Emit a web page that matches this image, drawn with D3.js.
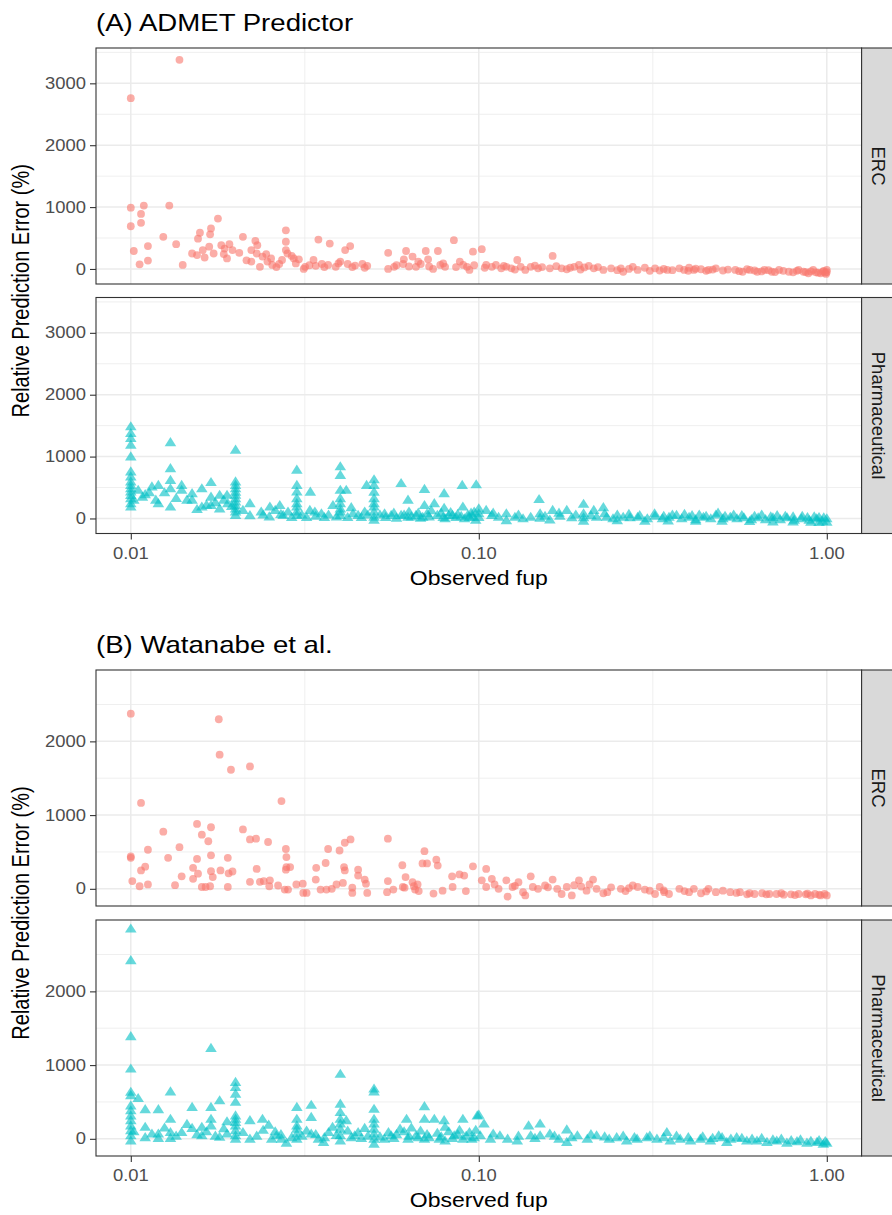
<!DOCTYPE html>
<html>
<head>
  <meta charset="utf-8">
  <title>Relative prediction error vs observed fup</title>
  <style>
    body { margin: 0; background: #ffffff; }
    text { font-family: "Liberation Sans", Arial, sans-serif; }
  </style>
</head>
<body>
  <svg width="892" height="1215"></svg>
  <script src="https://d3js.org/d3.v7.min.js"></script>
  <script>
  // data: [observed fup, relative prediction error (%)]
  var facets = ["ERC", "Pharmaceutical"];
  var titles = ["(A) ADMET Predictor", "(B) Watanabe et al."];
  var xTicks = [0.01, 0.1, 1];
  var xTickLabels = ["0.01", "0.10", "1.00"];
  var yTicksA = [0, 1000, 2000, 3000];
  var yTicksB = [0, 1000, 2000];

  var ercA = [
    [0.0138, 3380], [0.010, 2760],
    [0.010, 990], [0.010, 690], [0.0102, 290], [0.0107, 890], [0.0107, 745], [0.0109, 1025],
    [0.0112, 370], [0.0106, 75], [0.0112, 135], [0.0129, 1025], [0.0124, 520], [0.0135, 400],
    [0.0141, 65], [0.0150, 250], [0.0155, 225], [0.0156, 490], [0.0158, 585], [0.0161, 305],
    [0.0163, 185], [0.0168, 360], [0.0169, 560], [0.0170, 655], [0.0173, 250], [0.0178, 815],
    [0.0182, 385], [0.0186, 330], [0.0189, 170], [0.0192, 400], [0.0196, 305], [0.0210, 520],
    [0.0222, 305], [0.0228, 455], [0.0231, 385], [0.0230, 250], [0.0222, 120], [0.0239, 200],
    [0.0245, 240], [0.0247, 120], [0.0235, 35], [0.0255, 65], [0.0267, 80], [0.0272, 145],
    [0.0279, 625], [0.0279, 440], [0.0279, 305], [0.0282, 250], [0.0290, 210], [0.0294, 170],
    [0.0304, 155], [0.0314, 0], [0.0317, 35], [0.0335, 145], [0.0346, 475], [0.0373, 410],
    [0.0340, 50], [0.0354, 80], [0.0369, 65], [0.0388, 35], [0.0400, 120], [0.0413, 305],
    [0.0427, 370], [0.0420, 80], [0.0441, 55], [0.0463, 80], [0.0478, 50], [0.0549, 260],
    [0.0549, 0], [0.0571, 35], [0.0609, 155], [0.0618, 290], [0.0606, 80], [0.0645, 200],
    [0.0660, 35], [0.0670, 120], [0.0681, 80], [0.0704, 290], [0.0715, 155], [0.0739, 0],
    [0.0763, 290], [0.0775, 65], [0.0800, 35], [0.0848, 465], [0.0882, 120], [0.0902, 65],
    [0.0925, 35], [0.094, -15], [0.0962, 280], [0.102, 320], [0.105, 65], [0.109, 35],
    [0.112, 65], [0.116, 10], [0.120, 35], [0.124, 10], [0.129, 145], [0.132, 35],
    [0.136, -15], [0.141, 35], [0.148, 10], [0.163, 210], [0.160, 10], [0.173, 10],
    [0.179, -5], [0.188, 35], [0.194, 65], [0.201, 25], [0.207, 50], [0.214, 10],
    [0.228, -15], [0.256, 10], [0.260, -45], [0.277, 35], [0.286, -15], [0.321, 10],
    [0.331, -25], [0.348, -15], [0.377, 10], [0.389, -15], [0.402, 20], [0.415, -15],
    [0.435, -5], [0.457, -15], [0.480, 10], [0.503, -25], [0.546, -15], [0.573, -45],
    [0.601, -15], [0.631, -45], [0.662, -15], [0.695, -45], [0.729, -15], [0.778, -45],
    [0.830, -15], [0.857, -45], [0.885, -70], [0.914, -15], [0.944, -60], [0.975, -45],
    [1.0, -15], [0.995, -80],
    [0.0185, 240], [0.0205, 260], [0.0215, 140], [0.0253, 170], [0.0262, 30], [0.0298, 90],
    [0.0326, 60], [0.036, 30], [0.0395, 90], [0.0433, 30], [0.047, 20], [0.058, 60],
    [0.063, 40], [0.072, 40], [0.079, 90], [0.086, 30], [0.097, 60],
    [0.104, 20], [0.118, 50], [0.127, -10], [0.145, 55], [0.152, 30], [0.167, 45],
    [0.183, 20], [0.196, -10], [0.22, 30], [0.24, 10], [0.25, -20], [0.27, 0], [0.30, 20],
    [0.31, -30], [0.34, 0], [0.36, -20], [0.40, -30], [0.42, 5], [0.45, -30], [0.47, -10],
    [0.52, -10], [0.56, -35], [0.59, -5], [0.62, -25], [0.65, -40], [0.68, -20], [0.71, -50],
    [0.75, -30], [0.80, -55], [0.82, -30], [0.87, -50], [0.90, -40], [0.93, -55], [0.96, -70],
    [0.98, -30], [0.99, -60], [1.0, -50]
  ];

  var pharmA = [
    [0.01, 1486], [0.01, 1378], [0.01, 1297], [0.01, 1189], [0.01, 1000], [0.01, 757],
    [0.01, 676], [0.01, 595], [0.01, 540], [0.01, 486], [0.01, 432], [0.01, 378],
    [0.01, 324], [0.01, 243], [0.01, 189],
    [0.0105, 460], [0.0110, 390], [0.0115, 515], [0.0120, 540], [0.0120, 245],
    [0.0130, 1230], [0.0130, 810], [0.0130, 620], [0.0130, 485], [0.0130, 190],
    [0.0140, 540], [0.0140, 460], [0.0150, 405], [0.0150, 300], [0.0160, 485], [0.0160, 190],
    [0.0170, 585], [0.0170, 350], [0.0170, 215], [0.0180, 380], [0.0180, 160],
    [0.0189, 380], [0.0190, 245],
    [0.02, 1108], [0.02, 595], [0.02, 540], [0.02, 485], [0.02, 430], [0.02, 380],
    [0.02, 325], [0.02, 270], [0.02, 215], [0.02, 160], [0.02, 110], [0.02, 55],
    [0.0210, 135], [0.0220, 245], [0.0237, 110], [0.0251, 190], [0.0260, 135],
    [0.0268, 215], [0.0274, 55], [0.0283, 110],
    [0.03, 785], [0.03, 540], [0.03, 432], [0.03, 325], [0.03, 245], [0.03, 190],
    [0.03, 110], [0.03, 55],
    [0.0328, 430], [0.0327, 135], [0.0338, 110], [0.0353, 80], [0.0381, 215],
    [0.04, 840], [0.04, 700], [0.04, 460], [0.04, 325], [0.04, 245], [0.04, 160],
    [0.04, 110], [0.04, 55],
    [0.0416, 460], [0.0435, 80], [0.045, 55], [0.047, 110], [0.0476, 540],
    [0.05, 630], [0.05, 540], [0.05, 430], [0.05, 325], [0.05, 245], [0.05, 190],
    [0.05, 110], [0.05, 25], [0.05, -25],
    [0.0536, 80], [0.0560, 55], [0.0598, 570], [0.0598, 55], [0.0626, 300], [0.0626, 25],
    [0.066, 55], [0.0698, 475], [0.0698, 215], [0.069, 25], [0.0745, 245], [0.076, 55],
    [0.0795, 405], [0.0795, 170], [0.080, 0], [0.084, 55], [0.0896, 540], [0.090, 190],
    [0.091, 0], [0.0983, 550], [0.097, 110], [0.098, -25],
    [0.105, 135], [0.109, 55], [0.114, 25], [0.120, 80], [0.127, 25], [0.134, 0],
    [0.141, 25], [0.149, 310], [0.150, 80], [0.155, 40], [0.163, 135], [0.171, 40],
    [0.179, 135], [0.185, 15], [0.200, 235], [0.200, 80], [0.200, 15], [0.214, 135],
    [0.218, 25], [0.228, 180], [0.233, 25], [0.243, 0], [0.260, 25], [0.272, 15],
    [0.286, 25], [0.305, 0], [0.321, 40], [0.337, 0], [0.352, 25], [0.370, 55],
    [0.383, 0], [0.402, 25], [0.420, -15], [0.442, 25], [0.464, 0], [0.487, 90],
    [0.503, 0], [0.528, 25], [0.552, 0], [0.578, 15], [0.607, -15], [0.635, 15],
    [0.667, -15], [0.700, 15], [0.735, -15], [0.769, 15], [0.806, -25], [0.845, 0],
    [0.890, -25], [0.935, 0], [0.972, -40], [1.0, 0], [1.0, -55],
    [0.11, 90], [0.13, 60], [0.15, 10], [0.17, 90], [0.19, 60], [0.21, 50], [0.23, 80],
    [0.25, 60], [0.27, 70], [0.29, 50], [0.32, 80], [0.34, 40], [0.36, 60], [0.39, 70],
    [0.41, 50], [0.43, 60], [0.45, 40], [0.48, 60], [0.51, 40], [0.54, 60], [0.57, 50],
    [0.62, 40], [0.65, 60], [0.69, 30], [0.72, 50], [0.76, 40], [0.80, 30], [0.85, 40],
    [0.88, 20], [0.92, 30], [0.95, 20], [0.98, 15],
    [0.12, -30], [0.16, -20], [0.20, -40], [0.25, -30], [0.30, -40], [0.35, -35],
    [0.42, -40], [0.50, -40], [0.60, -45], [0.70, -50], [0.80, -50], [0.90, -55], [0.95, -60],
    [0.0102, 300], [0.0108, 350], [0.0113, 420], [0.0118, 300], [0.0125, 420], [0.0135, 330],
    [0.0145, 300], [0.0155, 150], [0.0165, 220], [0.0175, 260], [0.0185, 300], [0.0195, 200],
    [0.022, 50], [0.024, 60], [0.025, 30], [0.027, 70], [0.029, 20], [0.031, 60], [0.032, 20],
    [0.034, 40], [0.036, 20], [0.037, 60], [0.039, 30], [0.042, 20], [0.043, 180], [0.046, 20],
    [0.048, 60], [0.052, 60], [0.054, 20], [0.057, 90], [0.058, 10], [0.061, 60], [0.063, 110],
    [0.064, 30], [0.067, 90], [0.068, 10], [0.071, 80], [0.072, 30], [0.073, 130], [0.078, 90],
    [0.079, 20], [0.082, 50], [0.083, 100], [0.086, 20], [0.087, 70], [0.089, 40], [0.093, 60],
    [0.094, 20], [0.095, 90], [0.096, 30], [0.1, 80], [0.1, 20], [0.1, 160]
  ];

  var ercB = [
    [0.010, 2375], [0.0179, 2300], [0.0180, 1820], [0.0194, 1615], [0.0220, 1660],
    [0.0271, 1190], [0.0107, 1165], [0.0124, 775], [0.0155, 880], [0.0160, 735],
    [0.0170, 835], [0.0167, 645], [0.0210, 805], [0.0220, 670], [0.0229, 680], [0.0248, 635],
    [0.010, 420], [0.010, 440], [0.0101, 105], [0.0106, 35], [0.0107, 250], [0.0110, 300],
    [0.0112, 530], [0.0112, 60], [0.0128, 420], [0.0134, 50], [0.0138, 565], [0.0140, 170],
    [0.0151, 285], [0.0151, 135], [0.0155, 405], [0.0156, 205], [0.0160, 25], [0.0164, 25],
    [0.0169, 35], [0.0170, 455], [0.0170, 240], [0.0172, 160], [0.0181, 250], [0.0190, 420],
    [0.0190, 25], [0.0191, 210], [0.0196, 235], [0.0220, 95], [0.0230, 270], [0.0235, 95],
    [0.0241, 105], [0.0251, 115], [0.0250, 35], [0.0265, 45], [0.0279, 540], [0.0280, 430],
    [0.0280, 295], [0.0279, 260], [0.0287, 295], [0.0277, -10], [0.0283, -10], [0.0299, 60],
    [0.0312, 70], [0.0313, -55], [0.0320, -55], [0.0341, 285], [0.0340, 125], [0.0363, 350],
    [0.0369, 540], [0.0351, -10], [0.0365, -10], [0.0378, 0], [0.0390, 60], [0.0398, 520],
    [0.0412, 625], [0.0428, 670], [0.0410, 295], [0.0412, 250], [0.0407, 80], [0.0433, 15],
    [0.0433, -55], [0.0450, 260], [0.0450, 180], [0.0470, 125], [0.0474, 70], [0.0478, -55],
    [0.0545, -45], [0.0548, 105], [0.0548, 680], [0.0568, -10], [0.0603, 320], [0.0616, 160],
    [0.0605, 25], [0.0612, 15], [0.0645, 90], [0.0651, 35], [0.0656, -10], [0.0667, 60],
    [0.0672, -30], [0.0698, 510], [0.0689, 345], [0.0710, 345], [0.0755, 395], [0.0762, 315],
    [0.0741, -65], [0.0787, -25], [0.0838, 170], [0.0841, 25], [0.0880, 195], [0.0908, 180],
    [0.0918, -30], [0.0962, 305],
    [0.102, 115], [0.105, 270], [0.105, 25], [0.109, 135], [0.114, 0], [0.120, 115],
    [0.121, -105], [0.125, 25], [0.130, 90], [0.134, -45], [0.136, -90], [0.141, 170],
    [0.143, 25], [0.148, 0], [0.155, 45], [0.163, 125], [0.168, 0], [0.173, -70],
    [0.179, 25], [0.185, -90], [0.194, 115], [0.197, 30], [0.204, -25], [0.213, 125],
    [0.218, 0], [0.228, -60], [0.234, -45], [0.256, 0], [0.264, -30], [0.277, 45],
    [0.286, 25], [0.310, -25], [0.321, -70], [0.331, 25], [0.341, -45], [0.352, -70],
    [0.377, 0], [0.402, -45], [0.415, 0], [0.435, -60], [0.457, 0], [0.480, -45],
    [0.503, -25], [0.528, -45], [0.563, -45], [0.590, -75], [0.620, -70], [0.652, -60],
    [0.684, -70], [0.717, -70], [0.752, -80], [0.789, -75], [0.830, -70], [0.870, -75],
    [0.900, -90], [0.925, -70], [0.960, -90], [0.985, -70], [1.0, -90],
    [0.111, 60], [0.127, 40], [0.158, 20], [0.188, 50], [0.208, 60], [0.24, 20], [0.27, 10],
    [0.30, -10], [0.34, -20], [0.39, -30], [0.45, -35], [0.55, -55], [0.60, -60], [0.67, -75],
    [0.74, -60], [0.81, -85], [0.88, -65], [0.95, -80]
  ];

  var pharmB = [
    [0.01, 2850], [0.01, 2420], [0.01, 1390], [0.01, 950], [0.01, 635], [0.01, 590],
    [0.01, 450], [0.01, 385], [0.01, 315], [0.01, 250], [0.01, 180], [0.01, 115],
    [0.01, 45], [0.01, -25],
    [0.0105, 550], [0.0110, 400], [0.0110, 160], [0.0115, 70], [0.0120, 400], [0.0120, 70],
    [0.0120, 10], [0.0130, 640], [0.0130, 270], [0.0130, 90], [0.0130, 10], [0.0140, 90],
    [0.0150, 430], [0.0150, 145], [0.016, 160], [0.016, 45], [0.0170, 1230], [0.017, 430],
    [0.017, 270], [0.017, 180], [0.018, 520], [0.018, 25], [0.0189, 235], [0.0189, 70],
    [0.02, 770], [0.02, 700], [0.02, 610], [0.02, 500], [0.02, 315], [0.02, 270],
    [0.02, 225], [0.02, 180], [0.02, 115], [0.02, 45], [0.02, 0],
    [0.022, 250], [0.022, 0], [0.0239, 270], [0.0249, 190], [0.0254, 0], [0.0262, 45],
    [0.0271, 0], [0.028, -55],
    [0.03, 430], [0.03, 270], [0.03, 180], [0.03, 135], [0.03, 70], [0.03, 0],
    [0.033, 460], [0.033, 295], [0.033, 70], [0.0346, 0], [0.0358, -45], [0.038, 160],
    [0.04, 880], [0.04, 475], [0.04, 360], [0.04, 270], [0.04, 205], [0.04, 135],
    [0.04, 45], [0.04, -25],
    [0.0416, 250], [0.044, 45], [0.047, 145],
    [0.05, 680], [0.05, 640], [0.05, 405], [0.05, 270], [0.05, 205], [0.05, 135],
    [0.05, 70], [0.05, 0], [0.05, -70],
    [0.0536, 0], [0.056, 45], [0.0594, 135], [0.062, 270], [0.0626, 0], [0.066, 45],
    [0.0698, 440], [0.0698, 270], [0.0698, 0], [0.0745, 270], [0.077, 0], [0.0795, 250],
    [0.080, 160], [0.080, -25], [0.085, 45], [0.090, 270], [0.090, 0], [0.0955, 0],
    [0.099, 315],
    [0.100, 325], [0.1035, 205], [0.101, 45], [0.108, 0], [0.115, 45], [0.121, 0],
    [0.129, -25], [0.139, 180], [0.141, 45], [0.150, 205], [0.150, 45], [0.160, 70],
    [0.170, 0], [0.179, 125], [0.179, -45], [0.192, 45], [0.205, 0], [0.218, 45],
    [0.237, 0], [0.249, 20], [0.266, -25], [0.285, 0], [0.304, 20], [0.325, 0],
    [0.347, 90], [0.355, -25], [0.379, 0], [0.406, -25], [0.433, 0], [0.463, -25],
    [0.489, 45], [0.516, -45], [0.551, 20], [0.589, -25], [0.630, -25], [0.673, -45],
    [0.718, -25], [0.768, -55], [0.821, -35], [0.877, -55], [0.937, -45], [0.977, -70],
    [1.0, -55],
    [0.11, 70], [0.13, 40], [0.145, 10], [0.165, 40], [0.185, 20], [0.21, 60], [0.23, 30],
    [0.26, 40], [0.28, 20], [0.31, 40], [0.34, 20], [0.37, 40], [0.40, 20], [0.44, 30],
    [0.47, 10], [0.50, 20], [0.53, 0], [0.57, 10], [0.61, 0], [0.65, 10], [0.70, -10],
    [0.74, 0], [0.79, -20], [0.84, -10], [0.90, -30], [0.95, -20], [0.99, -35],
    [0.0102, 100], [0.011, 20], [0.0125, 150], [0.0135, 40], [0.0145, 200], [0.0155, 60],
    [0.0165, 100], [0.0175, 40], [0.0185, 140], [0.021, 90], [0.023, 40], [0.024, 120],
    [0.026, 100], [0.027, 60], [0.029, 20], [0.031, 40], [0.032, 110], [0.034, 60],
    [0.036, 20], [0.037, 90], [0.039, 50], [0.042, 110], [0.043, 20], [0.045, 90],
    [0.046, 10], [0.048, 40], [0.052, 30], [0.055, 90], [0.057, 10], [0.058, 60],
    [0.061, 100], [0.063, 40], [0.064, 150], [0.067, 20], [0.068, 110], [0.071, 60],
    [0.072, 20], [0.076, 80], [0.078, 30], [0.082, 100], [0.084, 10], [0.087, 60],
    [0.088, 120], [0.092, 40], [0.094, 90], [0.097, 20], [0.098, 120]
  ];

  var ercColor = "#F8766D", pharmColor = "#00BFC4";
  var svg = d3.select("svg");
  svg.append("rect").attr("width", 892).attr("height", 1215).attr("fill", "#ffffff");

  var x = d3.scaleLog()
    .domain([0.01 / Math.pow(10, 0.1), Math.pow(10, 0.1)])
    .range([96, 861.6]);
  var xMinor = [Math.pow(10, -1.5), Math.pow(10, -0.5)];
  var stripW = 32;

  // horizontally stretched text, the reference is slightly wide
  function hText(g, px, py, str, size, anchor, fill) {
    return g.append("text")
      .attr("transform", "translate(" + px + "," + py + ") scale(1.15,1)")
      .attr("text-anchor", anchor)
      .attr("font-size", size)
      .attr("fill", fill)
      .text(str);
  }

  var figs = [
    { title: titles[0], titleY: 31, panels: [[48, 284], [297.5, 533.5]],
      data: [ercA, pharmA], yDomain: [-243, 3571], yTicks: yTicksA, yMinor: [500, 1500, 2500, 3500] },
    { title: titles[1], titleY: 653, panels: [[670, 906], [920, 1156]],
      data: [ercB, pharmB], yDomain: [-233, 2968], yTicks: yTicksB, yMinor: [500, 1500, 2500] }
  ];

  var tri = d3.symbol().type(d3.symbolTriangle).size(48);

  figs.forEach(function(f) {
    var g = svg.append("g");
    hText(g, 96, f.titleY, f.title, 24, "start", "#000000");

    f.panels.forEach(function(p, i) {
      var top = p[0], bottom = p[1];
      var y = d3.scaleLinear().domain(f.yDomain).range([bottom, top]);
      var pg = g.append("g");

      // grid
      pg.selectAll(".ymin").data(f.yMinor).enter().append("line")
        .attr("x1", x.range()[0]).attr("x2", x.range()[1])
        .attr("y1", function(d) { return y(d); }).attr("y2", function(d) { return y(d); })
        .attr("stroke", "#EBEBEB").attr("stroke-width", 0.8);
      pg.selectAll(".xmin").data(xMinor).enter().append("line")
        .attr("y1", top).attr("y2", bottom)
        .attr("x1", function(d) { return x(d); }).attr("x2", function(d) { return x(d); })
        .attr("stroke", "#EBEBEB").attr("stroke-width", 0.8);
      pg.selectAll(".ymaj").data(f.yTicks).enter().append("line")
        .attr("x1", x.range()[0]).attr("x2", x.range()[1])
        .attr("y1", function(d) { return y(d); }).attr("y2", function(d) { return y(d); })
        .attr("stroke", "#EBEBEB").attr("stroke-width", 1.5);
      pg.selectAll(".xmaj").data(xTicks).enter().append("line")
        .attr("y1", top).attr("y2", bottom)
        .attr("x1", function(d) { return x(d); }).attr("x2", function(d) { return x(d); })
        .attr("stroke", "#EBEBEB").attr("stroke-width", 1.5);

      // points
      if (i === 0) {
        pg.selectAll("circle").data(f.data[i]).enter().append("circle")
          .attr("cx", function(d) { return x(d[0]); })
          .attr("cy", function(d) { return y(d[1]); })
          .attr("r", 3.9)
          .attr("fill", ercColor).attr("fill-opacity", 0.6);
      } else {
        pg.selectAll("path.pt").data(f.data[i]).enter().append("path")
          .attr("class", "pt")
          .attr("d", tri)
          .attr("transform", function(d) {
            return "translate(" + x(d[0]) + "," + (y(d[1]) + 0.8) + ") scale(1.1,1)";
          })
          .attr("fill", pharmColor).attr("fill-opacity", 0.6);
      }

      // panel border
      pg.append("rect")
        .attr("x", x.range()[0]).attr("y", top)
        .attr("width", x.range()[1] - x.range()[0]).attr("height", bottom - top)
        .attr("fill", "none").attr("stroke", "#333333").attr("stroke-width", 1.1);

      // strip
      pg.append("rect")
        .attr("x", x.range()[1]).attr("y", top)
        .attr("width", stripW).attr("height", bottom - top)
        .attr("fill", "#D9D9D9").attr("stroke", "#333333").attr("stroke-width", 1.1);
      pg.append("text")
        .attr("transform", "translate(" + (x.range()[1] + 17) + "," + ((top + bottom) / 2) + ") rotate(90)")
        .attr("text-anchor", "middle").attr("dominant-baseline", "central")
        .attr("font-size", 18.5).attr("fill", "#1A1A1A")
        .text(facets[i]);

      // y axis
      var yAxis = d3.axisLeft(y).tickValues(f.yTicks).tickSize(6).tickPadding(4).tickFormat(d3.format("d"));
      var ya = pg.append("g").attr("transform", "translate(" + x.range()[0] + ",0)").call(yAxis);
      ya.select(".domain").remove();
      ya.selectAll(".tick line").attr("stroke", "#333333").attr("stroke-width", 1.1);
      ya.selectAll(".tick text").remove();
      f.yTicks.forEach(function(t) {
        hText(pg, 86, y(t) + 5.6, d3.format("d")(t), 16, "end", "#4D4D4D");
      });

      // x axis on the bottom panel only
      if (i === 1) {
        var xAxis = d3.axisBottom(x).tickValues(xTicks).tickSize(6).tickFormat(function(d, k) { return xTickLabels[k]; });
        var xa = pg.append("g").attr("transform", "translate(0," + bottom + ")").call(xAxis);
        xa.select(".domain").remove();
        xa.selectAll(".tick line").attr("stroke", "#333333").attr("stroke-width", 1.1);
        xa.selectAll(".tick text").remove();
        xTicks.forEach(function(t, k) {
          hText(pg, x(t), bottom + 25, xTickLabels[k], 16, "middle", "#4D4D4D");
        });
        hText(pg, (x.range()[0] + x.range()[1]) / 2, bottom + 51, "Observed fup", 20, "middle", "#000000");
      }
    });

    // y title centred on both panels
    var cy = (f.panels[0][0] + f.panels[1][1]) / 2;
    g.append("text")
      .attr("transform", "translate(29," + cy + ") rotate(-90) scale(1,1.15)")
      .attr("text-anchor", "middle")
      .attr("font-size", 20).attr("fill", "#000000")
      .text("Relative Prediction Error (%)");
  });
  </script>
</body>
</html>
